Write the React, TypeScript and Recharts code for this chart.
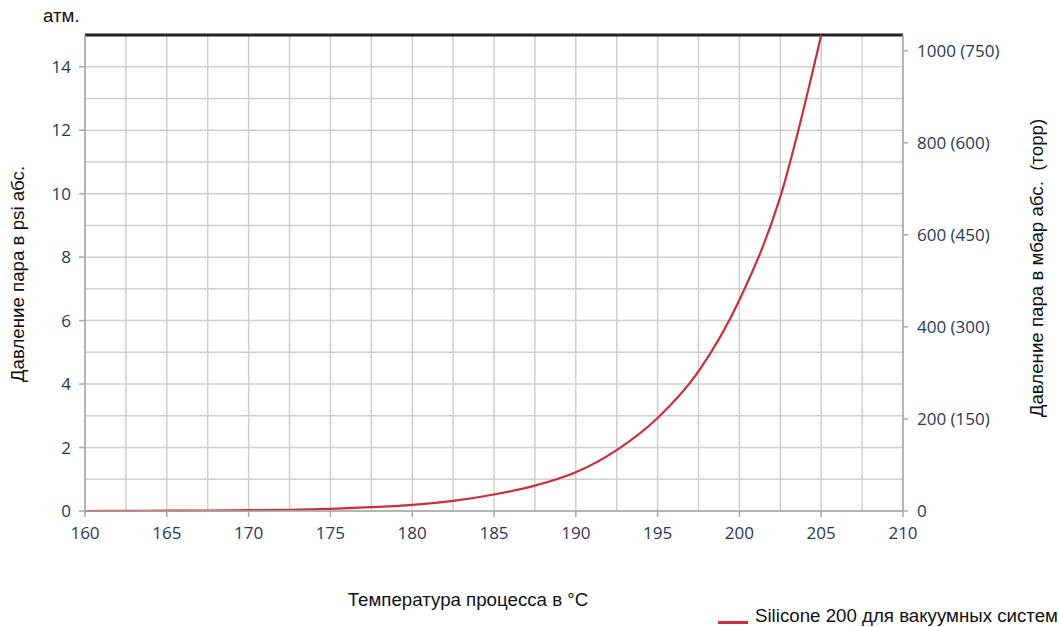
import React from "react";
import {
  LineChart,
  Line,
  XAxis,
  YAxis,
  CartesianGrid,
  ReferenceLine,
} from "recharts";

// температура процесса, °C
const temps = [
  160, 162.5, 165, 167.5, 170, 172.5, 175, 177.5, 180, 182.5, 185, 187.5, 190,
  192.5, 195, 197.5, 200, 202.5, 205,
];
// давление пара, psi абс.
const psiValues = [
  0.0, 0.005, 0.01, 0.015, 0.025, 0.04, 0.07, 0.12, 0.19, 0.32, 0.52, 0.8, 1.22,
  1.92, 2.93, 4.4, 6.65, 9.9, 15,
];

const xTicks = [160, 165, 170, 175, 180, 185, 190, 195, 200, 205, 210];
const xGrid = [
  160, 162.5, 165, 167.5, 170, 172.5, 175, 177.5, 180, 182.5, 185, 187.5, 190,
  192.5, 195, 197.5, 200, 202.5, 205, 207.5, 210,
];
const psiTicks = [0, 2, 4, 6, 8, 10, 12, 14];
const psiGrid = [0, 1, 2, 3, 4, 5, 6, 7, 8, 9, 10, 11, 12, 13, 14, 15];
const mbarTicks = [0, 200, 400, 600, 800, 1000];
const torrTicks = [0, 150, 300, 450, 600, 750];

const PSI_MAX = 15;
const PSI_TO_MBAR = 68.9476;

const data = temps.map((t, i) => ({ t, psi: psiValues[i] }));

const tickStyle = { fill: "#2a3858", fontSize: 17, fontFamily: "Open Sans" };
const textFont = "'Liberation Sans', Arial, sans-serif";
const textSize = 18.7;

export default function App() {
  return (
    <div
      style={{
        position: "absolute",
        left: 0,
        top: 0,
        width: 1059,
        height: 627,
        background: "#fff",
      }}
    >
      <LineChart
        width={1059}
        height={627}
        data={data}
        margin={{ top: 35, right: 0, left: 0, bottom: 0 }}
      >
        <CartesianGrid
          stroke="#cfcfcf"
          strokeWidth={1.5}
          verticalValues={xGrid}
          horizontalValues={psiGrid}
        />
        <XAxis
          dataKey="t"
          type="number"
          domain={[160, 210]}
          ticks={xTicks}
          height={116}
          tick={tickStyle}
          tickMargin={10}
          tickSize={6}
          axisLine={{ stroke: "#a8a8a8", strokeWidth: 1.5 }}
          tickLine={{ stroke: "#a8a8a8", strokeWidth: 1.5 }}
        />
        <YAxis
          type="number"
          domain={[0, PSI_MAX]}
          ticks={psiTicks}
          width={85}
          tick={tickStyle}
          tickMargin={8}
          tickSize={6}
          axisLine={{ stroke: "#a8a8a8", strokeWidth: 1.5 }}
          tickLine={{ stroke: "#a8a8a8", strokeWidth: 1.5 }}
        />
        <YAxis
          yAxisId="right"
          orientation="right"
          type="number"
          domain={[0, PSI_MAX * PSI_TO_MBAR]}
          allowDataOverflow
          ticks={mbarTicks}
          width={156}
          tick={tickStyle}
          tickMargin={9}
          tickSize={5}
          tickFormatter={(v: number) => {
            const i = mbarTicks.indexOf(v);
            return v === 0 ? "0" : `${v} (${torrTicks[i]})`;
          }}
          axisLine={{ stroke: "#a8a8a8", strokeWidth: 1.5 }}
          tickLine={{ stroke: "#a8a8a8", strokeWidth: 1.5 }}
        />
        <ReferenceLine y={PSI_MAX} stroke="#222" strokeWidth={3} />
        <Line
          type="monotone"
          dataKey="psi"
          stroke="#cc2f3b"
          strokeWidth={2.2}
          dot={false}
          isAnimationActive={false}
        />
      </LineChart>

      <div
        style={{
          position: "absolute",
          left: 43,
          top: 5,
          fontFamily: textFont,
          fontSize: textSize,
          color: "#111",
        }}
      >
        атм.
      </div>

      <div
        style={{
          position: "absolute",
          left: 18,
          top: 274,
          transform: "translate(-50%, -50%) rotate(-90deg)",
          whiteSpace: "nowrap",
          fontFamily: textFont,
          fontSize: textSize,
          color: "#111",
        }}
      >
        Давление пара в psi абс.
      </div>

      <div
        style={{
          position: "absolute",
          left: 1037,
          top: 268,
          transform: "translate(-50%, -50%) rotate(-90deg)",
          whiteSpace: "pre",
          fontFamily: textFont,
          fontSize: textSize,
          color: "#111",
        }}
      >
        {"Давление пара в мбар абс.  (торр)"}
      </div>

      <div
        style={{
          position: "absolute",
          left: 468,
          top: 600,
          transform: "translate(-50%, -50%)",
          whiteSpace: "nowrap",
          fontFamily: textFont,
          fontSize: textSize,
          color: "#111",
        }}
      >
        Температура процесса в °C
      </div>

      <div
        style={{
          position: "absolute",
          left: 718,
          top: 605,
          display: "flex",
          alignItems: "center",
          whiteSpace: "nowrap",
          fontFamily: textFont,
          fontSize: textSize,
          color: "#111",
        }}
      >
        <span
          style={{
            display: "inline-block",
            width: 30,
            height: 3,
            background: "#cc2f3b",
            marginRight: 7,
            marginTop: 12,
          }}
        />
        Silicone 200 для вакуумных систем
      </div>
    </div>
  );
}
